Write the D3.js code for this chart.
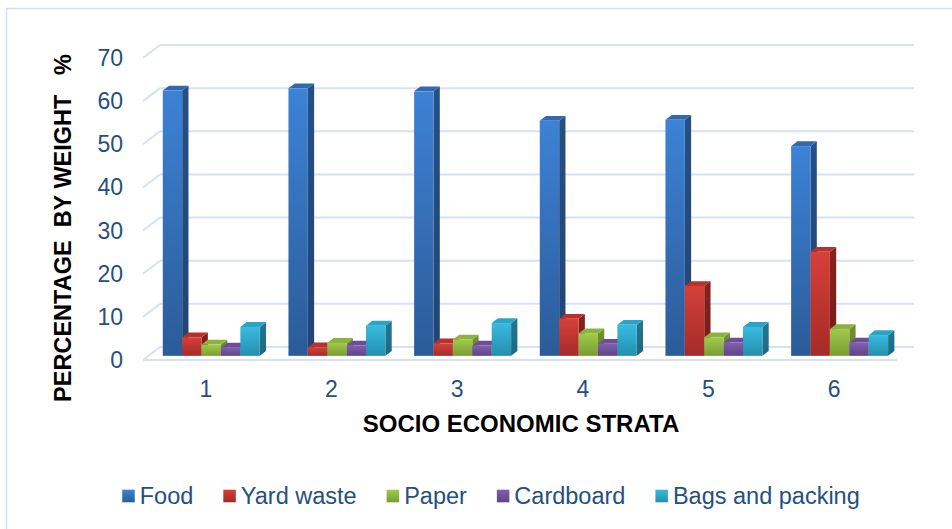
<!DOCTYPE html>
<html><head><meta charset="utf-8">
<script src="https://cdn.jsdelivr.net/npm/d3@7"></script>
<style>
html,body{margin:0;padding:0;background:#fff;}
svg{display:block;font-family:"Liberation Sans",Arial,sans-serif;}
</style></head>
<body>
<svg id="chart" width="952" height="529"></svg>
<script>
const categories = ["1","2","3","4","5","6"];
const seriesNames = ["Food","Yard waste","Paper","Cardboard","Bags and packing"];
const food      = [61.5, 62.0, 61.3, 54.5, 54.7, 48.6];
const yardWaste = [4.3, 2.0, 2.9, 8.6, 16.2, 24.1];
const paper     = [2.6, 3.0, 3.8, 5.2, 4.3, 6.2];
const cardboard = [1.9, 2.4, 2.4, 2.8, 3.1, 3.1];
const bags      = [6.7, 7.0, 7.6, 7.2, 6.7, 4.8];
const yTicks = [0,10,20,30,40,50,60,70];
const xTitle = "SOCIO ECONOMIC STRATA";
const yTitle = "PERCENTAGE  BY WEIGHT   %";

const seriesValues = [food, yardWaste, paper, cardboard, bags];
const palette = [
  {top:"#3d82d6", bot:"#2b5b98", side:"#234a7c", cap:"#3069b0"},
  {top:"#d6403a", bot:"#a42b27", side:"#7e1f1c", cap:"#b8312c"},
  {top:"#a0cb4a", bot:"#7a9c35", side:"#6a892c", cap:"#8db23e"},
  {top:"#8060ac", bot:"#5f4388", side:"#4a346b", cap:"#6c4e98"},
  {top:"#38bbe0", bot:"#238fae", side:"#1f7089", cap:"#2ba4c6"}
];

const svg = d3.select("#chart");
const defs = svg.append("defs");
palette.forEach((p,i)=>{
  const g = defs.append("linearGradient").attr("id","gf"+i).attr("x1",0).attr("y1",0).attr("x2",0).attr("y2",1);
  g.append("stop").attr("offset","0%").attr("stop-color",p.top);
  g.append("stop").attr("offset","100%").attr("stop-color",p.bot);
  const s = defs.append("linearGradient").attr("id","gs"+i).attr("x1",0).attr("y1",0).attr("x2",0).attr("y2",1);
  s.append("stop").attr("offset","0%").attr("stop-color",d3.color(p.side).brighter(0.2));
  s.append("stop").attr("offset","100%").attr("stop-color",d3.color(p.side).darker(0.2));
});

// chart border
svg.append("rect").attr("x",6.5).attr("y",8.5).attr("width",1200).attr("height",800)
  .attr("fill","none").attr("stroke","#d3dfee").attr("stroke-width",1.5);

// perspective
const DX = 17, DY = -13;
const yF = d3.scaleLinear().domain([0,70]).range([360,58]);
const x0 = d3.scaleBand().domain(categories).range([143,897]).padding(0);
const x1 = d3.scaleBand().domain(seriesNames).range([0,x0.bandwidth()]).paddingInner(0).paddingOuter(0.74);
const d0 = 0.32, dd = 0.37;

const grid = svg.append("g");
const gridColor = "#d6e2f2";
yTicks.forEach(t=>{
  const yf = yF(t), yb = yF(t)+DY;
  grid.append("line").attr("x1",x0.range()[0]+DX).attr("x2",x0.range()[1]+DX)
    .attr("y1",yb).attr("y2",yb).attr("stroke",gridColor).attr("stroke-width",2);
  grid.append("line").attr("x1",x0.range()[0]).attr("x2",x0.range()[0]+DX)
    .attr("y1",yf).attr("y2",yb).attr("stroke",gridColor).attr("stroke-width",2);
});
grid.append("line").attr("x1",x0.range()[0]).attr("x2",x0.range()[1])
  .attr("y1",yF(0)).attr("y2",yF(0)).attr("stroke",gridColor).attr("stroke-width",2);

// bars
const bars = svg.append("g");
categories.forEach((c,ci)=>{
  seriesNames.forEach((s,si)=>{
    const v = seriesValues[si][ci];
    const xl = x0(c) + x1(s) + d0*DX;
    const xr = xl + x1.bandwidth();
    const yt = yF(v) + d0*DY;
    const yb = yF(0) + d0*DY;
    const ox = dd*DX, oy = dd*DY;
    const g = bars.append("g");
    g.append("polygon").attr("points",[[xr,yt],[xr+ox,yt+oy],[xr+ox,yb+oy],[xr,yb]].map(p=>p.join(",")).join(" "))
      .attr("fill","url(#gs"+si+")");
    g.append("polygon").attr("points",[[xl,yt],[xr,yt],[xr+ox,yt+oy],[xl+ox,yt+oy]].map(p=>p.join(",")).join(" "))
      .attr("fill",palette[si].cap);
    g.append("rect").attr("x",xl).attr("y",yt).attr("width",xr-xl).attr("height",yb-yt)
      .attr("fill","url(#gf"+si+")");
  });
});

const labelColor = "#264f80";
// y tick labels
svg.append("g").selectAll("text").data(yTicks).join("text")
  .attr("x",123).attr("y",d=>yF(d)).attr("dy","0.35em").attr("text-anchor","end")
  .attr("font-size",23).attr("fill",labelColor).text(d=>d);

// category labels
svg.append("g").selectAll("text").data(categories).join("text")
  .attr("x",d=>x0(d)+x0.bandwidth()/2).attr("y",389).attr("dy","0.35em").attr("text-anchor","middle")
  .attr("font-size",23).attr("fill",labelColor).text(d=>d);

// axis titles
svg.append("text").attr("x",521).attr("y",432).attr("text-anchor","middle")
  .attr("font-size",24).attr("font-weight","bold").attr("fill","#000").text(xTitle);
svg.append("text").attr("transform","translate(71,228) rotate(-90)").attr("text-anchor","middle")
  .attr("font-size",23.5).attr("font-weight","bold").attr("fill","#000")
  .style("white-space","pre").text(yTitle);

// legend
const leg = svg.append("g");
const items = [];
seriesNames.forEach((s,i)=>{
  const g = leg.append("g");
  g.append("rect").attr("x",0).attr("y",-6.3).attr("width",12.5).attr("height",12.6).attr("fill","url(#gf"+i+")");
  const t = g.append("text").attr("x",17.5).attr("y",0).attr("dy","0.35em").attr("font-size",23.5)
    .attr("fill",labelColor).text(s);
  const w = 17.5 + t.node().getComputedTextLength();
  items.push({g,w});
});
const gap = 30;
const total = d3.sum(items,d=>d.w) + gap*(items.length-1);
let start = 491 - total/2;
items.forEach(it=>{ it.g.attr("transform",`translate(${start},496)`); start += it.w + gap; });
</script>
</body></html>
